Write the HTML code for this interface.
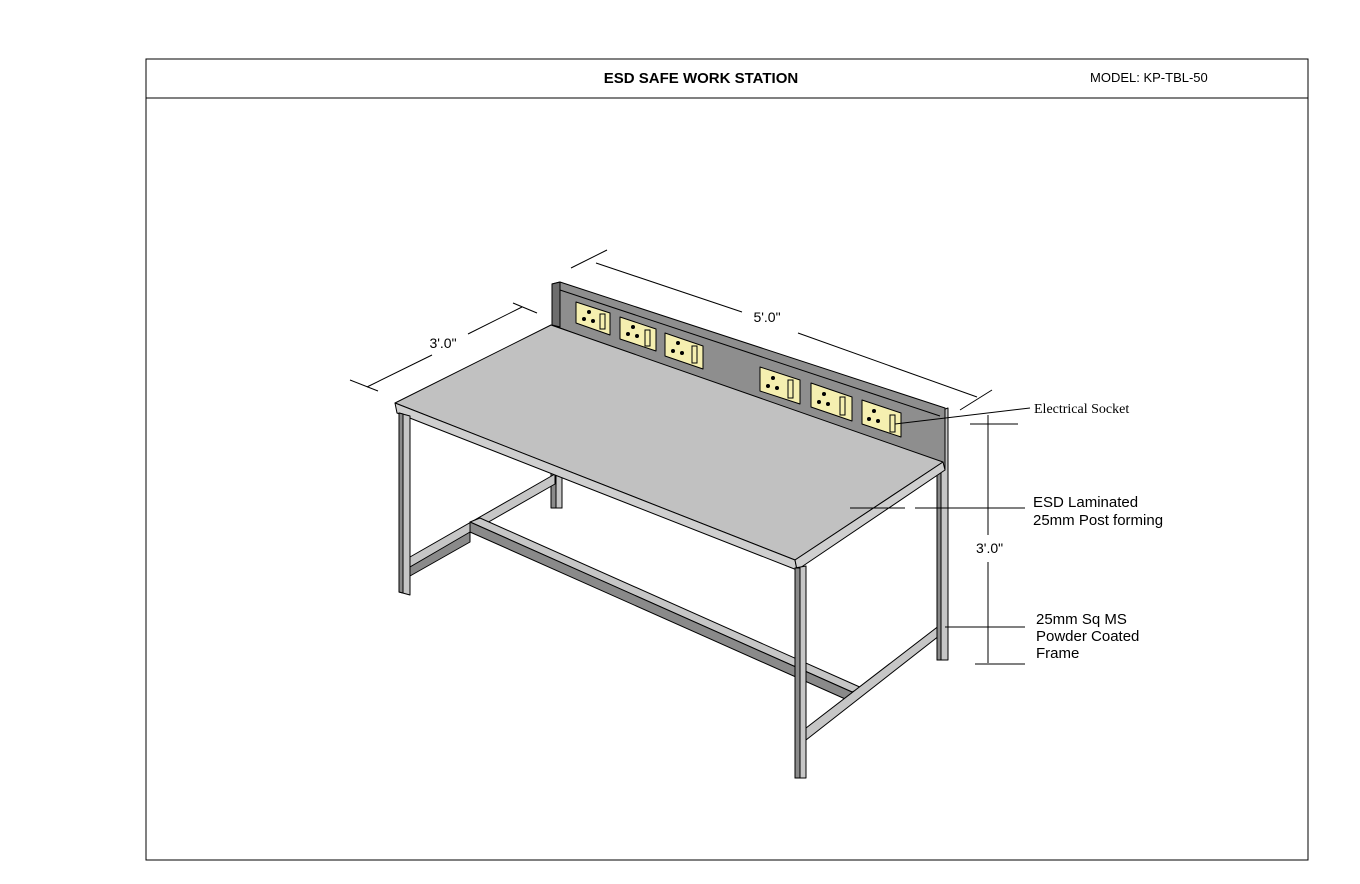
<!DOCTYPE html>
<html><head><meta charset="utf-8"><style>
body{margin:0;background:#fff;}
svg{display:block;}
</style></head><body>
<svg width="1360" height="884" viewBox="0 0 1360 884" xmlns="http://www.w3.org/2000/svg" font-family="Liberation Sans, sans-serif">
<rect x="146" y="59" width="1162" height="801" fill="none" stroke="#000" stroke-width="1"/>
<line x1="146" y1="98" x2="1308" y2="98" stroke="#000"/>
<text x="701" y="83" text-anchor="middle" font-size="15" font-weight="bold">ESD SAFE WORK STATION</text>
<text x="1090" y="82" font-size="13">MODEL: KP-TBL-50</text>

<g stroke="#000" stroke-width="1" stroke-linejoin="round">
<!-- back-left leg -->
<polygon points="551,470 562,470 562,508 551,508" fill="#8a8a8a"/>
<polygon points="556,470 562,470 562,508 556,508" fill="#c6c6c6"/>
<!-- left side stretcher -->
<polygon points="410,557 555,474 555,484 410,567" fill="#c6c6c6"/>
<polygon points="410,567 470,532 470,542 410,576" fill="#8a8a8a"/>
<!-- long stretcher -->
<polygon points="470,522 480,518 862,688 852,692" fill="#c6c6c6"/>
<polygon points="470,522 852,692 852,702 470,532" fill="#8a8a8a"/>
<!-- right side stretcher -->
<polygon points="806,728 940,625 944,632 806,740" fill="#c6c6c6"/>
<!-- back-right leg -->
<polygon points="937,412 948,408 948,660 937,660" fill="#c6c6c6"/>
<polygon points="937,412 941,412 941,660 937,660" fill="#8a8a8a"/>
<!-- backsplash -->
<polygon points="552,284 560,282 945,408 945,470 552,325" fill="#8e8e8e"/>
<polygon points="552,284 560,282 560,327 552,325" fill="#6e6e6e"/>
<line x1="560" y1="290" x2="940" y2="416"/>
<!-- sockets -->
<g fill="#f5efb0">
<polygon points="576,302 610,313 610,335 576,323"/>
<polygon points="620,317 656,329 656,351 620,339"/>
<polygon points="665,333 703,346 703,369 665,356"/>
<polygon points="760,367 800,380 800,404 760,391"/>
<polygon points="811,383 852,397 852,421 811,407"/>
<polygon points="862,400 901,413 901,437 862,424"/>
</g>
<!-- tabletop -->
<polygon points="395,403 551,325 943,462 795,560" fill="#c1c1c1"/>
<polygon points="395,403 795,560 797,570 397,413" fill="#cfcfcf"/>
<polygon points="795,560 943,462 945,470 797,570" fill="#cfcfcf"/>
<!-- front legs -->
<polygon points="399,413 410,416 410,595 399,592" fill="#c6c6c6"/>
<polygon points="399,413 403,414 403,593 399,592" fill="#8a8a8a"/>
<polygon points="795,568 806,566 806,778 795,778" fill="#c6c6c6"/>
<polygon points="795,568 800,568 800,778 795,778" fill="#8a8a8a"/>
</g>
<!-- socket holes -->
<g fill="#000">
<circle cx="589" cy="312" r="2"/><circle cx="584" cy="319" r="2"/><circle cx="593" cy="321" r="2"/>
<circle cx="633" cy="327" r="2"/><circle cx="628" cy="334" r="2"/><circle cx="637" cy="336" r="2"/>
<circle cx="678" cy="343" r="2"/><circle cx="673" cy="351" r="2"/><circle cx="682" cy="353" r="2"/>
<circle cx="773" cy="378" r="2"/><circle cx="768" cy="386" r="2"/><circle cx="777" cy="388" r="2"/>
<circle cx="824" cy="394" r="2"/><circle cx="819" cy="402" r="2"/><circle cx="828" cy="404" r="2"/>
<circle cx="874" cy="411" r="2"/><circle cx="869" cy="419" r="2"/><circle cx="878" cy="421" r="2"/>
</g>
<g fill="none" stroke="#000">
<rect x="600" y="314" width="5" height="15"/>
<rect x="645" y="330" width="5" height="16"/>
<rect x="692" y="346" width="5" height="17"/>
<rect x="788" y="380" width="5" height="18"/>
<rect x="840" y="397" width="5" height="18"/>
<rect x="890" y="415" width="5" height="17"/>
</g>
<!-- dimension lines -->
<g stroke="#000" stroke-width="1" fill="none">
<line x1="596" y1="263" x2="742" y2="312"/>
<line x1="798" y1="333" x2="977" y2="397"/>
<line x1="571" y1="268" x2="607" y2="250"/>
<line x1="960" y1="410" x2="992" y2="390"/>
<line x1="367" y1="387" x2="432" y2="355"/>
<line x1="468" y1="334" x2="522" y2="307"/>
<line x1="350" y1="380" x2="378" y2="391"/>
<line x1="513" y1="303" x2="537" y2="313"/>
<line x1="988" y1="415" x2="988" y2="535"/>
<line x1="988" y1="562" x2="988" y2="663"/>
<line x1="970" y1="424" x2="1018" y2="424"/>
<line x1="975" y1="664" x2="1025" y2="664"/>
<line x1="895" y1="424" x2="1030" y2="408"/>
<line x1="850" y1="508" x2="905" y2="508"/>
<line x1="915" y1="508" x2="1025" y2="508"/>
<line x1="945" y1="627" x2="1025" y2="627"/>
</g>
<g font-size="14" fill="#000">
<text x="767" y="322" text-anchor="middle">5'.0"</text>
<text x="443" y="348" text-anchor="middle">3'.0"</text>
<text x="976" y="553">3'.0"</text>
<text x="1034" y="413" font-family="Liberation Serif, serif" font-size="14">Electrical Socket</text>
<text x="1033" y="507" font-size="15">ESD Laminated</text>
<text x="1033" y="525" font-size="15">25mm Post forming</text>
<text x="1036" y="624" font-size="15">25mm Sq MS</text>
<text x="1036" y="641" font-size="15">Powder Coated</text>
<text x="1036" y="658" font-size="15">Frame</text>
</g>
</svg>
</body></html>
